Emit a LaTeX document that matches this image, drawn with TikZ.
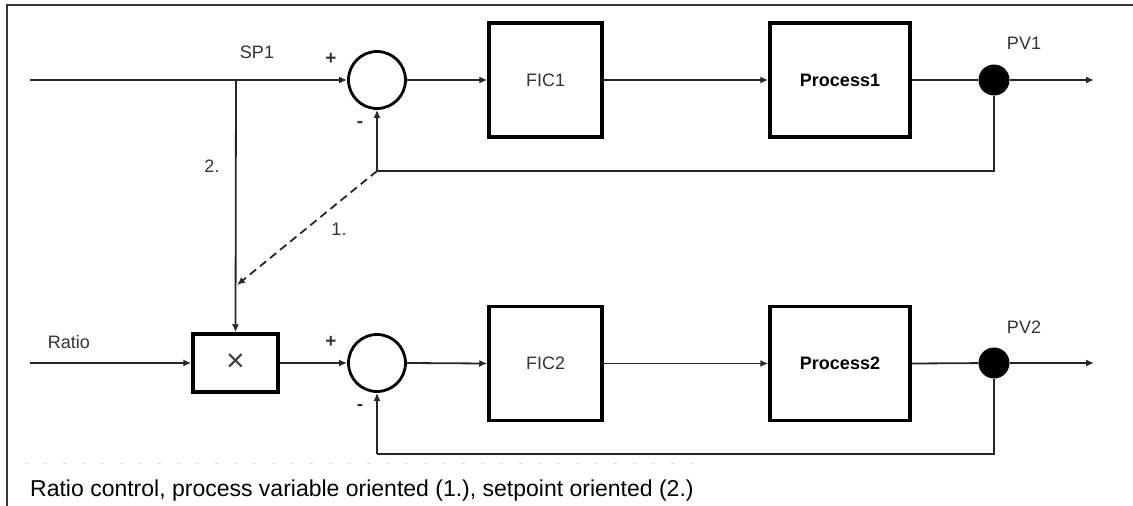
\documentclass[tikz,border=0pt]{standalone}
\usepackage{fontspec}
\setmainfont{Liberation Sans}
\usetikzlibrary{arrows.meta}
\tikzset{
  conn/.style={line width=1.8pt, black!85},
  arr/.style={conn, -{Latex[length=8pt,width=7pt]}},
  blk/.style={draw, line width=3.5pt, minimum width=113pt, minimum height=114pt, inner sep=0pt, font=\fontsize{18}{20}\selectfont, text=black!80},
  pblk/.style={blk, minimum width=140pt, text=black, font=\fontsize{18}{20}\selectfont\bfseries},
  xblk/.style={draw, line width=3.5pt, minimum width=85pt, minimum height=58pt, inner sep=0pt, font=\fontsize{32}{34}\selectfont, text=black!75},
  sumc/.style={draw, circle, line width=2.8pt, minimum size=57pt, inner sep=0pt},
  dotc/.style={fill, circle, minimum size=31pt, inner sep=0pt},
  lbl/.style={font=\fontsize{18}{20}\selectfont, text=black!80, inner sep=0pt},
  sgn/.style={font=\fontsize{19}{20}\selectfont\bfseries, text=black!80, inner sep=0pt},
  frame/.style={line width=1.8pt, black!80}
}
\begin{document}
\begin{tikzpicture}[x=1pt,y=-1pt]
\useasboundingbox (0,0) rectangle (1133,506);
% frame
\draw[frame] (1133,5) -- (7,5) -- (7,506);
% top loop
\coordinate (in1) at (30,80);
\coordinate (j1) at (236,80);
\node[sumc] (s1) at (377,80) {};
\node[blk] (f1) at (545.5,80) {FIC1};
\node[pblk] (p1) at (840,80) {Process1};
\node[dotc] (d1) at (994,80) {};
\coordinate (out1) at (1094,80);
\coordinate (fb1) at (994,171);
\coordinate (fb1b) at (377,171);
% bottom loop
\coordinate (in2) at (30,363);
\node[xblk] (xb) at (235.5,363) {×};
\node[sumc] (s2) at (377,363) {};
\node[blk] (f2) at (545.5,363.5) {FIC2};
\node[pblk] (p2) at (840,363.5) {Process2};
\node[dotc] (d2) at (994,363) {};
\coordinate (out2) at (1094,363);
\coordinate (fb2) at (994,454);
\coordinate (fb2b) at (377,454);
\coordinate (m) at (237,285);
% connectors top
\draw[arr] (in1) -- (s1.west);
\draw[arr] (s1.east) -- (f1.west);
\draw[arr] (f1.east) -- (p1.west);
\draw[conn] (p1.east) -- (d1);
\draw[arr] (d1) -- (out1);
\draw[conn] (d1) -- (fb1) -- (fb1b);
\draw[arr] (fb1b) -- (s1.south);
% setpoint branch
\draw[arr] (j1) -- (xb.north);
\draw[arr, dash pattern=on 8pt off 5pt] (fb1b) -- (m);
% connectors bottom
\draw[arr] (in2) -- (xb.west);
\draw[arr] (xb.east) -- (s2.west);
\draw[arr] (s2.east) -- (f2.west);
\draw[arr] (f2.east) -- (p2.west);
\draw[conn] (p2.east) -- (d2);
\draw[arr] (d2) -- (out2);
\draw[conn] (d2) -- (fb2) -- (fb2b);
\draw[arr] (fb2b) -- (s2.south);
% labels
\node[lbl] (lsp) at (257,52) {SP1};
\node[lbl] (lpv1) at (1024,43) {PV1};
\node[lbl] (lpv2) at (1024,327) {PV2};
\node[lbl] (lratio) at (69,342) {Ratio};
\node[lbl] (l2) at (212,166) {2.};
\node[lbl] (l1) at (339,229) {1.};
\node[sgn] (pl1) at (331,59) {+};
\node[sgn] (mi1) at (360,124) {-};
\node[sgn] (pl2) at (331,342) {+};
\node[sgn] (mi2) at (360,407) {-};
% faint residue line
\draw[black!15, line width=1pt, dash pattern=on 3pt off 16pt] (25,463) -- (700,463);
% caption
\node[anchor=base west, inner sep=0pt, font=\fontsize{23}{26}\selectfont] (cap) at (30,496) {Ratio control, process variable oriented (1.), setpoint oriented (2.)};
\end{tikzpicture}
\end{document}
